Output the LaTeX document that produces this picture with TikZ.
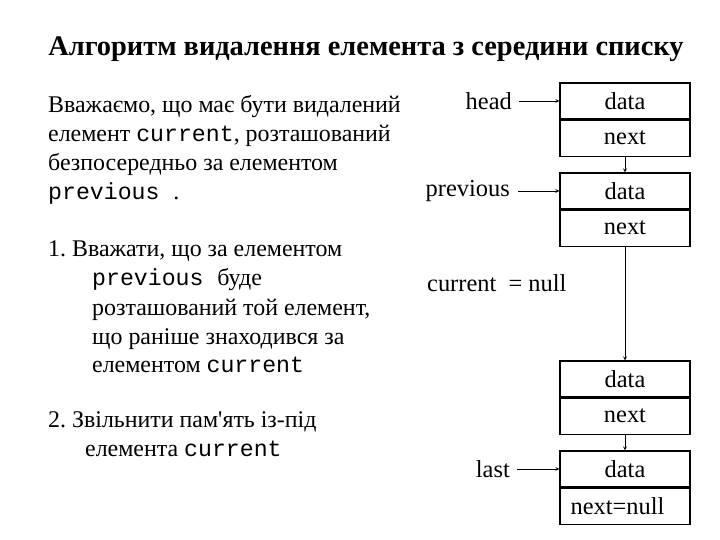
\documentclass[tikz,border=0pt]{standalone}
\usepackage{fontspec}
\setmainfont{Liberation Serif}[Ligatures=TeXOff]
\setmonofont{Liberation Mono}[Scale=0.97]
\usetikzlibrary{positioning, arrows}
\frenchspacing
\tikzset{
  >=stealth,
  x=1bp, y=-1bp,
  cell/.style={draw, line width=1.1bp, minimum width=130bp, minimum height=36bp,
    inner sep=0pt, font=\fontsize{24.5}{29}\selectfont},
  lbl/.style={font=\fontsize{24.5}{29}\selectfont, inner sep=0pt},
  txt/.style={anchor=base west, font=\fontsize{24}{28}\selectfont, inner sep=0pt},
  ptr/.style={->, line width=0.8bp},
}

\begin{document}
\begin{tikzpicture}
      \useasboundingbox (0,0) rectangle (720,540);

      \node[anchor=base, inner sep=0pt, font=\fontsize{28.5}{33}\selectfont\bfseries] (title) at (366,56)
        {Алгоритм видалення елемента з середини списку};

      % left text
      \node[txt] (t1) at (48,113) {Вважаємо, що має бути видалений};
      \node[txt] (t2) at (48,142) {елемент \texttt{current}, розташований};
      \node[txt] (t3) at (48,171) {безпосередньо за елементом};
      \node[txt] (t4) at (48,200) {\texttt{previous }.};
      \node[txt] (s1) at (48,257) {1. Вважати, що за елементом};
      \node[txt] (s2) at (92,286) {\texttt{previous }буде};
      \node[txt] (s3) at (92,315) {розташований той елемент,};
      \node[txt] (s4) at (92,344) {що раніше знаходився за};
      \node[txt] (s5) at (92,372) {елементом \texttt{current}};
      \node[txt] (r1) at (48,427) {2. Звільнити пам'ять із-під};
      \node[txt] (r2) at (85,456) {елемента \texttt{current}};

      % list
      \node[cell] (d1) at (625,101) {data};
      \node[cell,below=0pt of d1] (n1) {next};
      \node[cell] (d2) at (625,191) {data};
      \node[cell,below=0pt of d2] (n2) {next};
      \node[cell] (d3) at (625,379) {data};
      \node[cell,below=0pt of d3] (n3) {next};
      \node[cell] (d4) at (625,469) {data};
      \node[cell,below=0pt of d4] (n4) {next=null\hspace*{15bp}};

      \node[lbl,anchor=east] (head) at (512,101) {head};
      \node[lbl,anchor=east] (prev) at (510,191) {previous};
      \node[lbl,anchor=east] (last) at (510,469) {last};
      \node[lbl,anchor=west] (cur) at (427,283) {current\enspace= null};

      \draw[ptr,shorten <=7bp] (head) -- (d1);
      \draw[ptr,shorten <=8bp] (prev) -- (d2);
      \draw[ptr,shorten <=7bp] (last) -- (d4);
      \draw[ptr] (n1) -- (d2);
      \draw[ptr] (n2) -- (d3);
      \draw[ptr] (n3) -- (d4);
    \end{tikzpicture}
\end{document}
